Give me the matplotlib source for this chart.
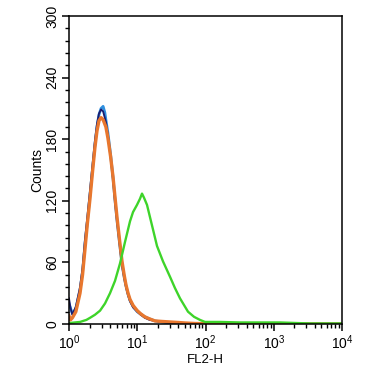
import matplotlib
matplotlib.use("Agg")
import matplotlib.pyplot as plt
from matplotlib.ticker import MultipleLocator, LogLocator, NullFormatter

plt.rcParams["font.family"] = ["Liberation Sans", "DejaVu Sans"]
plt.rcParams["mathtext.fontset"] = "custom"
plt.rcParams["mathtext.rm"] = "Liberation Sans"

# FL2-H channel values and event counts
navy_x = [1.00, 1.05, 1.12, 1.26, 1.45, 1.58, 1.71, 1.86, 2.03, 2.21, 2.40, 2.57, 2.75,
          2.95, 3.16, 3.47, 3.72, 4.07, 4.42, 4.73, 5.05, 5.50, 5.98, 6.46, 6.84, 7.33,
          7.83, 8.71, 10.0, 11.2, 12.9, 15.1, 18.2, 22.9, 30.2, 39.8, 100, 10000]
navy_y = [25, 16, 9, 17, 36, 55, 82, 105, 130, 155, 179, 195, 205,
          209, 207, 197, 184, 163, 140, 118, 100, 78, 57, 44, 36, 28,
          22, 16, 12, 9, 6, 4, 3, 2, 1, 0.5, 0.3, 0]

blue_x = [1.00, 1.12, 1.26, 1.45, 1.58, 1.71, 1.86, 2.03, 2.21, 2.40, 2.57, 2.75, 2.95,
          3.16, 3.35, 3.47, 3.72, 4.07, 4.42, 4.73, 5.05, 5.50, 5.98, 6.46, 6.84, 7.33,
          7.83, 8.71, 10.0, 12.9, 15.1, 18.2, 22.9, 30.2, 39.8, 100, 10000]
blue_y = [20, 10, 15, 33, 51, 77, 100, 126, 151, 175, 192, 204, 210,
          212, 206, 199, 186, 165, 142, 120, 101, 79, 58, 45, 37, 29,
          23, 17, 12, 7, 5, 3, 2, 1, 0.5, 0.3, 0]

orange_x = [1.00, 1.05, 1.12, 1.26, 1.45, 1.58, 1.71, 1.86, 2.03, 2.21, 2.40, 2.57, 2.75,
            2.95, 3.16, 3.47, 3.72, 4.07, 4.42, 4.73, 5.05, 5.50, 5.98, 6.46, 6.84, 7.33,
            7.83, 8.71, 10.0, 11.2, 12.9, 15.1, 18.2, 22.9, 30.2, 39.8, 50, 70, 100, 10000]
orange_y = [8, 4, 6, 12, 30, 48, 72, 98, 122, 148, 172, 188, 198,
            201, 199, 192, 181, 163, 143, 123, 104, 82, 61, 47, 38, 30,
            24, 18, 13, 10, 7, 5, 3, 2.5, 2, 1.5, 1, 0.5, 0.3, 0]

green_x = [1.03, 1.45, 1.80, 2.03, 2.40, 2.85, 3.37, 3.99, 4.72, 5.59, 6.62, 7.83, 8.67,
           9.91, 10.97, 11.74, 12.56, 13.90, 15.38, 17.02, 19.47, 23.84, 30.2, 35.7, 42.3,
           55.4, 67.9, 83.0, 98.4, 163, 320, 630, 1230, 2040, 3390, 10000]
green_y = [1, 2, 4, 6, 9, 13, 20, 30, 42, 59, 80, 100, 109,
           116, 122, 127, 123, 116, 104, 92, 76, 61, 46, 35, 25,
           12, 7, 4, 2, 2, 1.5, 1.5, 1.5, 1, 0.5, 0.5]

fig = plt.figure(figsize=(3.86, 3.77), dpi=100)
ax = fig.add_axes([69 / 386, 53 / 377, 273 / 386, 308 / 377])

ax.plot(blue_x, blue_y, color="#2f8fdf", lw=2.0)
ax.plot(navy_x, navy_y, color="#1c1c6e", lw=1.3)
ax.plot(orange_x, orange_y, color="#e8772e", lw=2.4)
ax.plot(green_x, green_y, color="#3ed42a", lw=1.7)

ax.set_xscale("log")
ax.set_xlim(1, 10000)
ax.set_ylim(0, 300)
ax.yaxis.set_major_locator(MultipleLocator(60))
ax.yaxis.set_minor_locator(MultipleLocator(12))
ax.xaxis.set_major_locator(LogLocator(base=10))
ax.xaxis.set_minor_locator(LogLocator(base=10, subs=range(2, 10)))
ax.xaxis.set_minor_formatter(NullFormatter())

for s in ax.spines.values():
    s.set_linewidth(1.1)
ax.tick_params(axis="both", which="major", direction="out", length=5, width=1.1,
               labelsize=10, colors="black")
ax.tick_params(axis="both", which="minor", direction="out", length=3, width=1.0)
ax.tick_params(axis="x", pad=2)
ax.tick_params(axis="y", pad=2)
for lab in ax.get_yticklabels():
    lab.set_rotation(90)
    lab.set_va("center")

ax.set_xlabel("FL2-H", fontsize=9.5, labelpad=1)
ax.set_ylabel("Counts", fontsize=10, labelpad=1)

fig.savefig("out.png", dpi=100)
